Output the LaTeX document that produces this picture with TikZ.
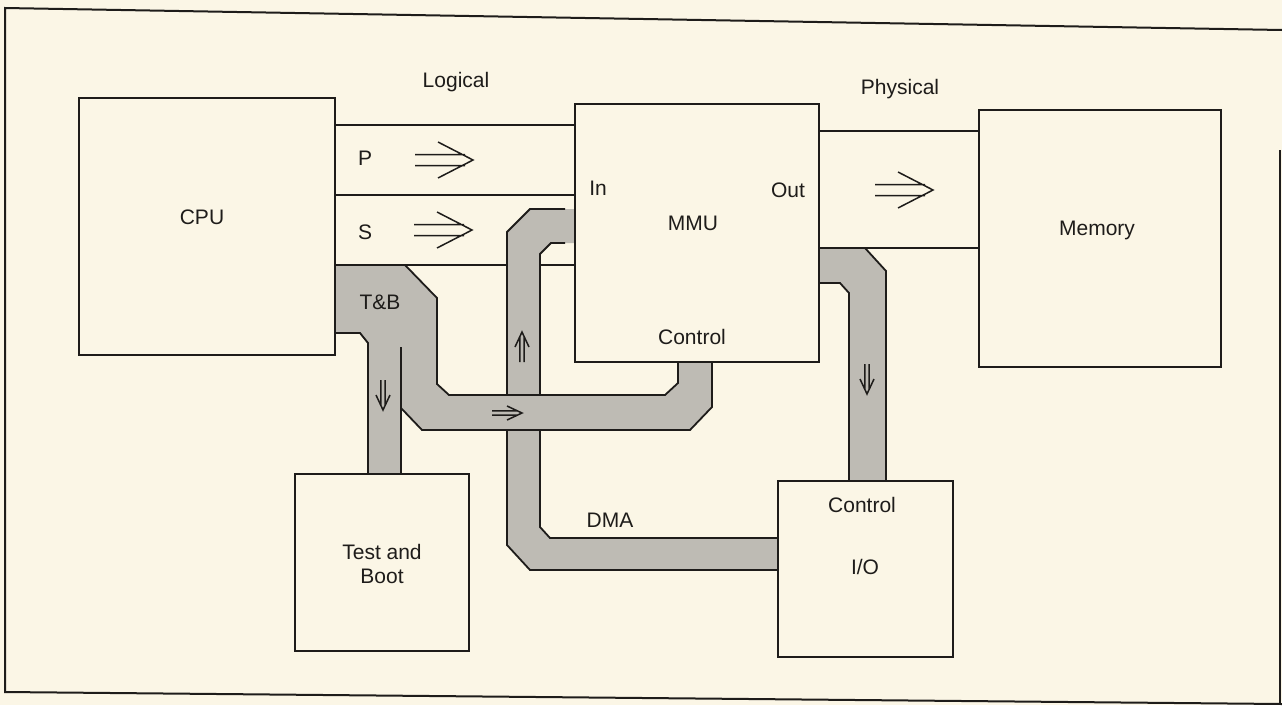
\documentclass[tikz,border=0pt]{standalone}
\usepackage{fontspec}
\setmainfont{Liberation Sans}
\definecolor{paper}{RGB}{251,246,230}
\definecolor{ink}{RGB}{30,28,26}
\definecolor{busgray}{RGB}{190,187,180}
\begin{document}
\begin{tikzpicture}[x=1pt,y=-1pt,line join=miter,
  box/.style={draw=ink,line width=1.8pt,fill=paper,rectangle,inner sep=0pt,outer sep=0pt},
  lbl/.style={text=ink,font=\fontsize{21}{24}\selectfont,inner sep=0pt,text height=15pt,text depth=0pt},
  lbl2/.style={text=ink,font=\fontsize{21}{24}\selectfont,inner sep=0pt,align=center},
  wire/.style={draw=ink,line width=1.8pt},
  busfill/.style={fill=busgray,draw=none},
  arrline/.style={draw=ink,line width=1.5pt},
  bigarr/.pic={\draw[arrline] (0,-5.5)--(50,-5.5) (0,5.5)--(50,5.5) (23,-18)--(58,0)--(23,18);},
  smallarr/.pic={\draw[arrline] (0,-2.2)--(25,-2.2) (0,2.2)--(25,2.2) (15,-7)--(30,0)--(15,7);}]
\useasboundingbox (0,0) rectangle (1282,705);
\fill[paper] (0,0) rectangle (1282,705);
% frame
\draw[wire,line width=2pt] (1282,30) -- (5,8) -- (5,692) -- (1282,704);
\draw[wire,line width=1.4pt] (1280,150) -- (1280,704);
% boxes
\node[box,minimum width=256pt,minimum height=257pt] (cpu) at (207,226.5) {};
\node[box,minimum width=244pt,minimum height=258pt] (mmu) at (697,233) {};
\node[box,minimum width=242pt,minimum height=257pt] (mem) at (1100,238.5) {};
\node[box,minimum width=174pt,minimum height=177pt] (tb) at (382,562.5) {};
\node[box,minimum width=175pt,minimum height=176pt] (io) at (865.5,569) {};
% logical bus lines
\draw[wire] (cpu.east |- 0,125) -- (mmu.west |- 0,125);
\draw[wire] (cpu.east |- 0,195) -- (mmu.west |- 0,195);
\draw[wire] (cpu.east |- 0,265) -- (mmu.west |- 0,265);
% DMA bus
\fill[busfill] (mmu.west |- 0,209) -- (530,209) -- (507,232) -- (507,545) -- (530,570) -- (io.west |- 0,570) -- (io.west |- 0,538) -- (550,538) -- (540,527) -- (540,254) -- (551,243) -- (mmu.west |- 0,243) -- cycle;
\draw[wire] (565,209) -- (530,209) -- (507,232) -- (507,545) -- (530,570) -- (io.west |- 0,570);
\draw[wire] (io.west |- 0,538) -- (550,538) -- (540,527) -- (540,254) -- (551,243) -- (565,243);
% T&B / control bus
\fill[busfill] (cpu.east |- 0,265) -- (405,265) -- (437,298) -- (437,384) -- (449,395) -- (665,395) -- (678,383) -- (mmu.south -| 678,0) -- (mmu.south -| 712,0) -- (712,407) -- (690,430) -- (422,430) -- (401,408) -- (tb.north -| 401,0) -- (tb.north -| 368,0) -- (368,343) -- (360,333) -- (cpu.east |- 0,333) -- cycle;
\draw[wire] (cpu.east |- 0,265) -- (405,265) -- (437,298) -- (437,384) -- (449,395) -- (665,395) -- (678,383) -- (mmu.south -| 678,0);
\draw[wire] (mmu.south -| 712,0) -- (712,407) -- (690,430) -- (422,430) -- (401,408);
\draw[wire] (401,347) -- (tb.north -| 401,0);
\draw[wire] (cpu.east |- 0,333) -- (360,333) -- (368,343) -- (tb.north -| 368,0);
% Out -> I/O control bus
\fill[busfill] (mmu.east |- 0,248) -- (865,248) -- (886,271) -- (io.north -| 886,0) -- (io.north -| 849,0) -- (849,293) -- (840,283) -- (mmu.east |- 0,283) -- cycle;
\draw[wire] (mmu.east |- 0,131) -- (mem.west |- 0,131);
\draw[wire] (mmu.east |- 0,248) -- (mem.west |- 0,248);
\draw[wire] (865,248) -- (886,271) -- (io.north -| 886,0);
\draw[wire] (mmu.east |- 0,283) -- (840,283) -- (849,293) -- (io.north -| 849,0);
% box borders on top
\draw[wire] (cpu.south west) rectangle (cpu.north east);
\draw[wire] (mmu.south west) rectangle (mmu.north east);
\draw[wire] (mem.south west) rectangle (mem.north east);
\draw[wire] (tb.south west) rectangle (tb.north east);
\draw[wire] (io.south west) rectangle (io.north east);
% arrows
\pic at (415,160) {bigarr};
\pic at (414,230) {bigarr};
\pic at (875,190) {bigarr};
\pic[rotate=-90] at (383,380) {smallarr};
\pic[rotate=90] at (522,362) {smallarr};
\pic at (492,413) {smallarr};
\pic[rotate=-90] at (867,364) {smallarr};
% labels
\node[lbl] (logical) at (456,80) {Logical};
\node[lbl] (physical) at (900,87) {Physical};
\node[lbl] (pL) at (365,158) {P};
\node[lbl] (sL) at (365,232) {S};
\node[lbl] (inL) at (598,188) {In};
\node[lbl] (outL) at (788,190) {Out};
\node[lbl] (mmuL) at (693,223) {MMU};
\node[lbl] (ctlL) at (692,337) {Control};
\node[lbl] (cpuL) at (202,217) {CPU};
\node[lbl] (memL) at (1097,228) {Memory};
\node[lbl] (tbL) at (380,302) {T\&B};
\node[lbl] (dmaL) at (610,520) {DMA};
\node[lbl] (ioctlL) at (862,505) {Control};
\node[lbl] (ioL) at (865,567) {I/O};
\node[lbl2] (tbtext) at (382,563.5) {Test and\\Boot};
\end{tikzpicture}
\end{document}
